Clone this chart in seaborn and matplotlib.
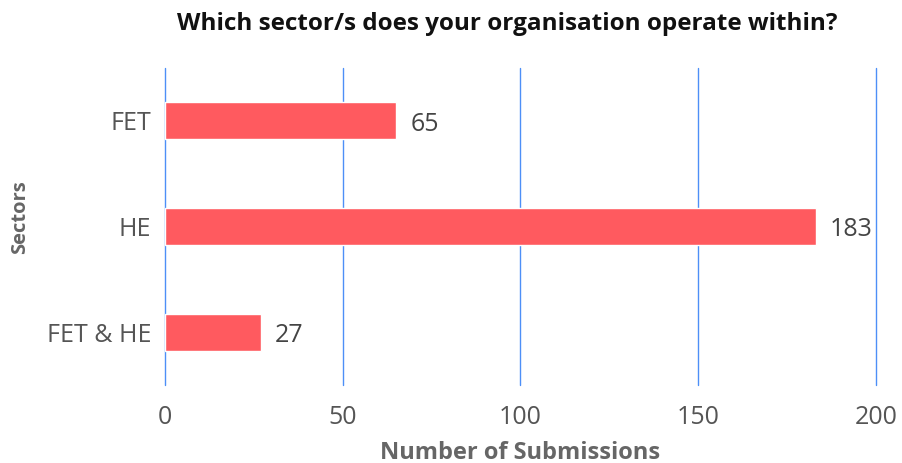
import matplotlib
matplotlib.use("Agg")
import matplotlib.pyplot as plt
import seaborn as sns
import pandas as pd

sectors = ["FET", "HE", "FET & HE"]
submissions = [65, 183, 27]
x_ticks = [0, 50, 100, 150, 200]

df = pd.DataFrame({"Sector": sectors, "Submissions": submissions})

sns.set_theme(style="white")
plt.rcParams["font.family"] = ["Open Sans", "DejaVu Sans"]

fig = plt.figure(figsize=(9.03, 4.63), dpi=100)
ax = fig.add_axes([0.1827, 0.168, 0.7874, 0.685])

bar_color = "#FF5A5F"
grid_color = "#4D8FF7"
text_color = "#555555"

sns.barplot(data=df, y="Sector", x="Submissions", orient="h",
            color=bar_color, saturation=1, width=0.35, ax=ax, zorder=3)

ax.set_xlim(0, 200)
ax.set_ylim(2.5, -0.5)
ax.set_xticks(x_ticks)
ax.set_xticklabels([str(t) for t in x_ticks], fontsize=18, color=text_color)
ax.tick_params(axis="x", length=0, pad=14)
ax.tick_params(axis="y", length=0, pad=10, labelsize=18, labelcolor=text_color)
for t in x_ticks:
    ax.axvline(t, color=grid_color, linewidth=1, zorder=1, clip_on=False)
for s in ax.spines.values():
    s.set_visible(False)

# value labels at the end of each bar
for patch, val in zip(ax.patches, submissions):
    ax.text(val + 4, patch.get_y() + patch.get_height() / 2 + 0.03, str(val),
            va="center", ha="left", fontsize=18, color="#444444")

ax.set_xlabel("Number of Submissions", fontsize=17, fontweight="bold",
              color="#666666", labelpad=8)
ax.set_ylabel("Sectors", fontsize=14.5, fontweight="bold", color="#666666",
              labelpad=10)
ax.yaxis.set_label_coords(-0.19, 0.53)
fig.text(0.562, 0.948, "Which sector/s does your organisation operate within?",
         ha="center", va="center", fontsize=17.5, fontweight="bold",
         color="#111111")

fig.savefig("out.png", dpi=100, facecolor="white")
